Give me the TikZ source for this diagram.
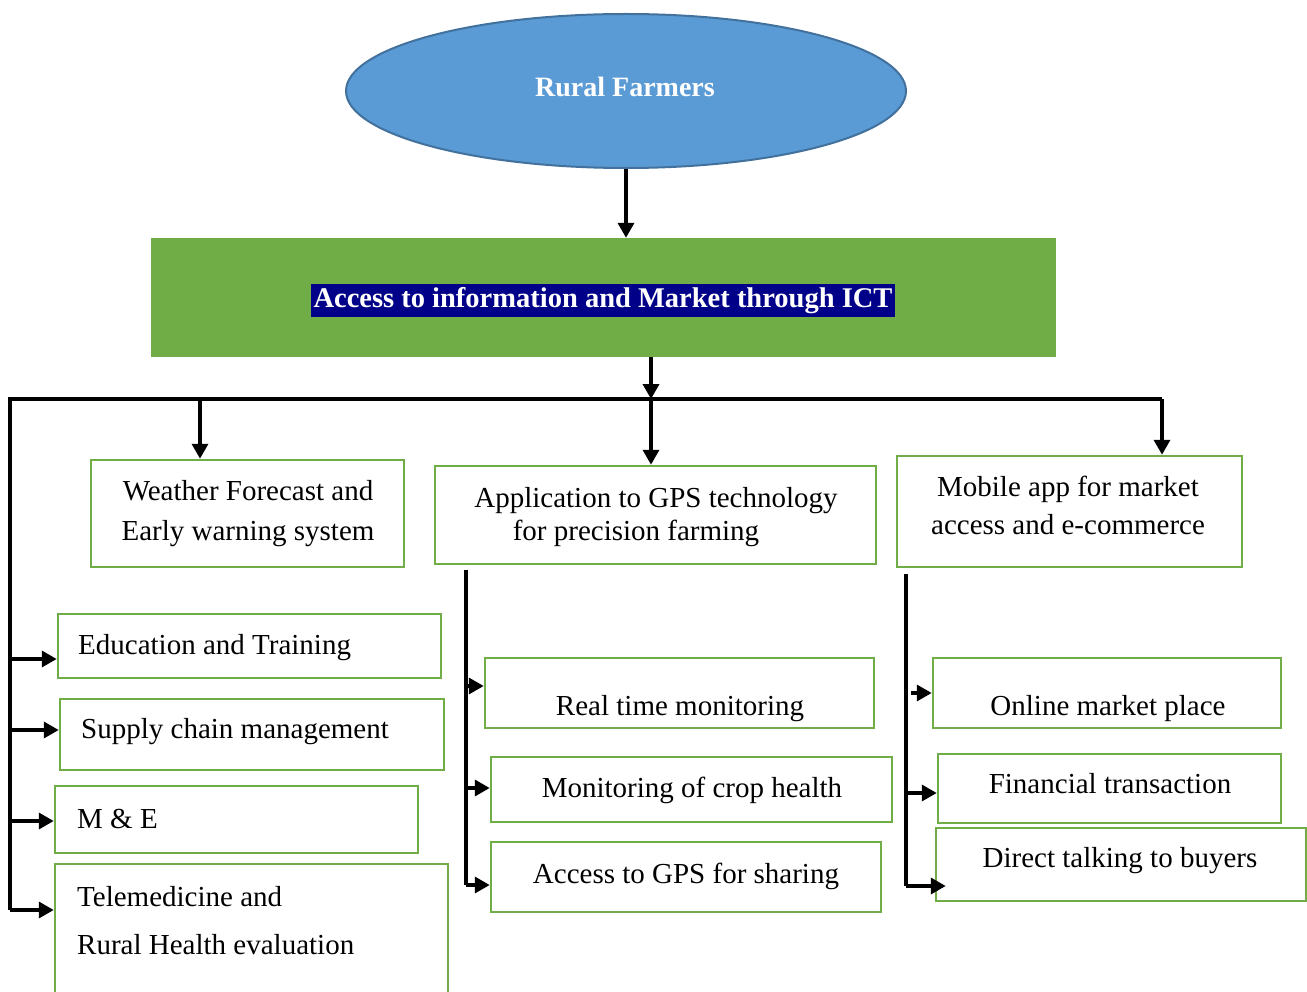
\documentclass[tikz,border=0pt]{standalone}
\usepackage{fontspec}
\setmainfont{Liberation Serif}
\usetikzlibrary{arrows.meta,fit,shapes.geometric}
\definecolor{boxgreen}{HTML}{70AD47}
\definecolor{ellblue}{HTML}{5B9BD5}
\definecolor{ellline}{HTML}{41719C}
\definecolor{hlnavy}{HTML}{000088}
\begin{document}
\begin{tikzpicture}[x=1pt,y=-1pt,
  gbox/.style={draw=boxgreen, line width=2.5pt, inner sep=0pt},
  txt/.style={font=\fontsize{29}{36}\selectfont, inner sep=0pt},
  conn/.style={line width=3.5pt, line join=miter},
  arr/.style={line width=3.5pt, -{Triangle[length=15pt,width=16pt]}}]
\clip (0,0) rectangle (1307,992);
\fill[white] (0,0) rectangle (1307,992);
% top ellipse
\node[ellipse, draw=ellline, line width=2pt, fill=ellblue, minimum width=560pt, minimum height=154pt, inner sep=0pt] (rf) at (626,91) {};
\node[anchor=base, inner sep=0pt, text=white, font=\fontsize{28}{34}\selectfont\bfseries] (rft) at (625,97) {Rural Farmers};
% ICT box
\node[fill=boxgreen, minimum width=905pt, minimum height=119pt, inner sep=0pt] (ict) at (603.5,297.5) {};
\node[fill=hlnavy, text=white, font=\fontsize{28.5}{34}\selectfont\bfseries, inner xsep=3pt, inner ysep=4pt, text height=19pt, text depth=6pt] (ictt) at (603,301) {Access to information and Market through ICT};
% level-2 boxes
\node[gbox, fit={(91,460) (404,567)}] (wea) {};
\node[gbox, fit={(435,466) (876,564)}] (gps) {};
\node[gbox, fit={(897,456) (1242,567)}] (mob) {};
\node[txt, anchor=base] (wea1) at (248,500) {Weather Forecast and};
\node[txt, anchor=base] (wea2) at (248,540) {Early warning system};
\node[txt, anchor=base] (gps1) at (656,507) {Application to GPS technology};
\node[txt, anchor=base] (gps2) at (636,540) {for precision farming};
\node[txt, anchor=base] (mob1) at (1068,496) {Mobile app for market};
\node[txt, anchor=base] (mob2) at (1068,534) {access and e-commerce};
% left column
\node[gbox, fit={(58,614) (441,678)}] (edu) {};
\node[gbox, fit={(60,699) (444,770)}] (sup) {};
\node[gbox, fit={(55,786) (418,853)}] (mne) {};
\node[gbox, fit={(55,864) (448,1010)}] (tel) {};
\node[txt, anchor=base west] (edut) at (78,654) {Education and Training};
\node[txt, anchor=base west] (supt) at (81,738) {Supply chain management};
\node[txt, anchor=base west] (mnet) at (77,828) {M \& E};
\node[txt, anchor=base west] (tel1) at (77,906) {Telemedicine and};
\node[txt, anchor=base west] (tel2) at (77,954) {Rural Health evaluation};
% middle column
\node[gbox, fit={(485,658) (874,728)}] (rtm) {};
\node[gbox, fit={(491,757) (892,822)}] (crop) {};
\node[gbox, fit={(491,842) (881,912)}] (shr) {};
\node[txt, anchor=base] (rtmt) at (680,715) {Real time monitoring};
\node[txt, anchor=base] (cropt) at (692,797) {Monitoring of crop health};
\node[txt, anchor=base] (shrt) at (686,883) {Access to GPS  for sharing};
% right column
\node[gbox, fit={(933,658) (1281,728)}] (onl) {};
\node[gbox, fit={(938,754) (1281,823)}] (fin) {};
\node[gbox, fit={(936,828) (1306,901)}] (dir) {};
\node[txt, anchor=base] (onlt) at (1108,715) {Online market place};
\node[txt, anchor=base] (fint) at (1110,793) {Financial transaction};
\node[txt, anchor=base] (dirt) at (1120,867) {Direct talking to buyers};
% connectors
\draw[arr] (rf.south) -- (rf.south |- ict.north);
\coordinate (jc) at (651,399);
\coordinate (bl) at (10,399);
\coordinate (br) at (1162,399);
\coordinate (lb) at (10,910);
\coordinate (jw) at (200,399);
\draw[arr] (ict.south -| jc) -- (jc);
\draw[conn] (lb) -- (bl) -- (br);
\draw[arr] (br) -- (br |- mob.north);
\draw[arr] (jw) -- (jw |- wea.north);
\draw[arr] (jc) -- (jc |- gps.north);
\coordinate (aE) at (10,659);
\coordinate (aS) at (10,730);
\coordinate (aM) at (10,821);
\draw[arr] (aE) -- (aE -| edu.west);
\draw[arr] (aS) -- (aS -| sup.west);
\draw[arr] (aM) -- (aM -| mne.west);
\draw[arr] (lb) -- (lb -| tel.west);
\coordinate (mt) at (466,570);
\coordinate (mb) at (466,885);
\coordinate (aR) at (466,686);
\coordinate (aC) at (466,788);
\draw[conn] (mt) -- (mb);
\draw[arr] (aR) -- (aR -| rtm.west);
\draw[arr] (aC) -- (aC -| crop.west);
\draw[arr] (mb) -- (mb -| shr.west);
\coordinate (rt) at (906,574);
\coordinate (rb) at (906,886);
\coordinate (aO) at (911,693);
\coordinate (aF) at (906,793);
\draw[conn] (rt) -- (rb);
\draw[arr] (aO) -- (aO -| onl.west);
\draw[arr] (aF) -- (aF -| fin.west);
\draw[arr] (rb) -- ([xshift=11pt]rb -| dir.west);
\end{tikzpicture}
\end{document}
